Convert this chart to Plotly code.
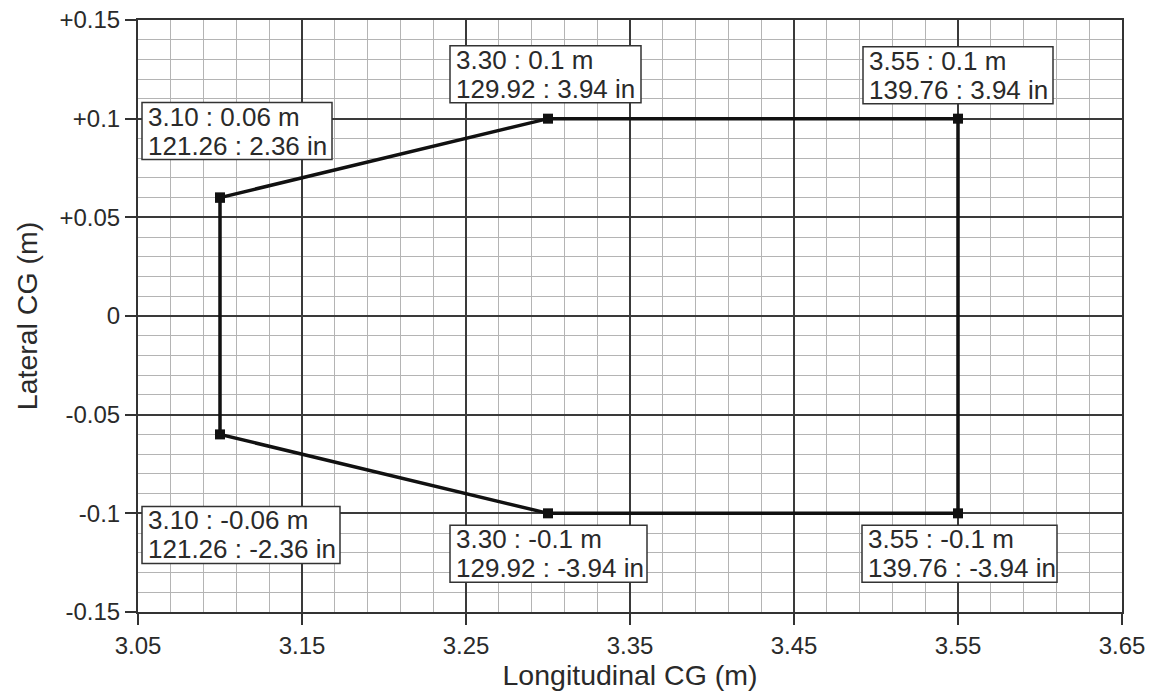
import plotly.graph_objects as go

# envelope vertices (closed polygon)
lon_m = [3.10, 3.30, 3.55, 3.55, 3.30, 3.10, 3.10]
lat_m = [0.06, 0.10, 0.10, -0.10, -0.10, -0.06, 0.06]

# point labels
pt_x = [3.10, 3.30, 3.55, 3.10, 3.30, 3.55]
pt_y = [0.06, 0.10, 0.10, -0.06, -0.10, -0.10]
pt_line1 = ["3.10 : 0.06 m", "3.30 : 0.1 m", "3.55 : 0.1 m",
            "3.10 : -0.06 m", "3.30 : -0.1 m", "3.55 : -0.1 m"]
pt_line2 = ["121.26 : 2.36 in", "129.92 : 3.94 in", "139.76 : 3.94 in",
            "121.26 : -2.36 in", "129.92 : -3.94 in", "139.76 : -3.94 in"]

x_ticks = [3.05, 3.15, 3.25, 3.35, 3.45, 3.55, 3.65]
x_ticktext = ["3.05", "3.15", "3.25", "3.35", "3.45", "3.55", "3.65"]
y_ticks = [0.15, 0.10, 0.05, 0.0, -0.05, -0.10, -0.15]
y_ticktext = ["+0.15", "+0.1", "+0.05", "0", "-0.05", "-0.1", "-0.15"]

FONT = "Liberation Sans, Arial, sans-serif"
TXT = "#2a2a2a"

fig = go.Figure()
fig.add_trace(go.Scatter(
    x=lon_m, y=lat_m, mode="lines+markers",
    line=dict(color="#111111", width=3.5),
    marker=dict(symbol="square", size=10, color="#111111"),
    showlegend=False, hoverinfo="skip",
))

# label box placement: (left offset px, top offset px (screen, down +), box width px)
box_pos = [
    (-78, -95, 190),
    (-98, -73, 191),
    (-95, -72, 190),
    (-78, 72, 198),
    (-98, 12, 197),
    (-96, 12, 195),
]
BOX_H = 57
for x, y, l1, l2, (dx, dy, w) in zip(pt_x, pt_y, pt_line1, pt_line2, box_pos):
    fig.add_shape(
        type="rect", xref="x", yref="y", xsizemode="pixel", ysizemode="pixel",
        xanchor=x, yanchor=y, x0=dx, x1=dx + w, y0=-dy, y1=-(dy + BOX_H),
        line=dict(color="#333333", width=1.5), fillcolor="white", layer="above",
    )
    for txt, off in ((l1, 14), (l2, 43)):
        fig.add_annotation(
            x=x, y=y, text=txt, showarrow=False, xanchor="left", yanchor="middle",
            xshift=dx + 4, yshift=-(dy + off), align="left",
            font=dict(family=FONT, size=26, color=TXT),
        )

axis_common = dict(
    showline=True, linecolor="#333333", linewidth=2, mirror=True,
    showgrid=True, gridcolor="#3a3a3a", gridwidth=2,
    ticks="outside", ticklen=11, tickcolor="#333333", tickwidth=2,
    zeroline=False, ticklabeloverflow="allow",
    tickfont=dict(family=FONT, size=24, color=TXT),
)

fig.update_xaxes(
    range=[3.05, 3.65], tickmode="array", tickvals=x_ticks, ticktext=x_ticktext,
    minor=dict(tickmode="linear", tick0=3.05, dtick=0.02, showgrid=True,
               gridcolor="#b4b4b4", gridwidth=1, ticks=""),
    title=dict(text="Longitudinal CG (m)", font=dict(family=FONT, size=28.5, color=TXT), standoff=5),
    **axis_common,
)
fig.update_yaxes(
    range=[-0.15, 0.15], tickmode="array", tickvals=y_ticks, ticktext=y_ticktext,
    minor=dict(tickmode="linear", tick0=-0.15, dtick=0.01, showgrid=True,
               gridcolor="#b4b4b4", gridwidth=1, ticks=""),
    title=dict(text="Lateral CG (m)", font=dict(family=FONT, size=28.5, color=TXT), standoff=13),
    **axis_common,
)

fig.update_layout(
    width=1152, height=696,
    margin=dict(l=138, r=30, t=20, b=84, autoexpand=False),
    plot_bgcolor="white", paper_bgcolor="white",
)

fig.write_html(
    "out.html",
    config={"displayModeBar": False, "staticPlot": True},
    post_script="document.body.style.margin='0';document.body.style.overflow='hidden';",
)
